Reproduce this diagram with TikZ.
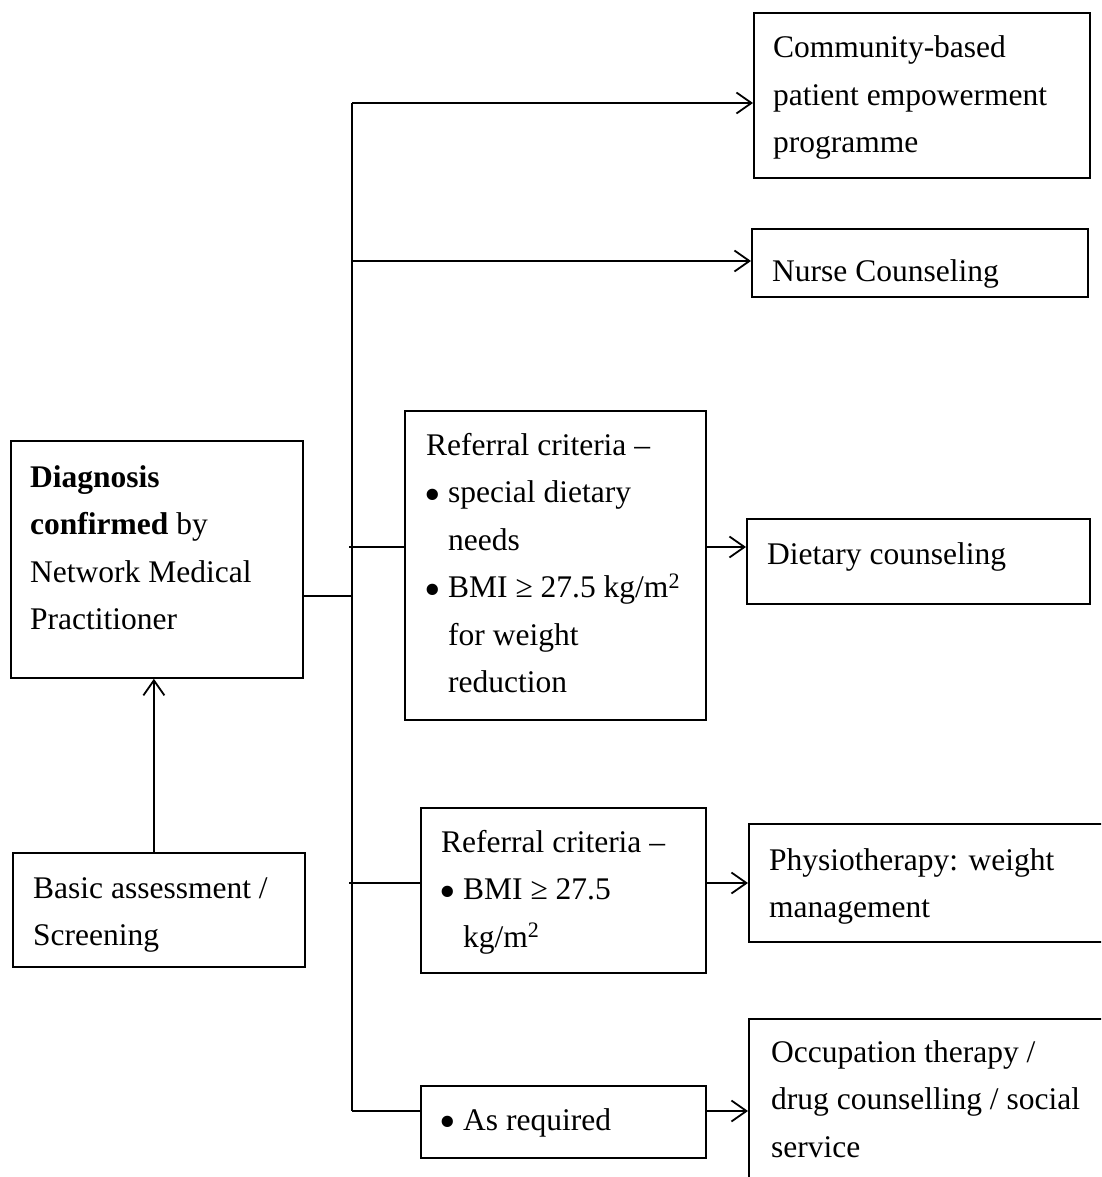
\documentclass[tikz,border=0pt]{standalone}
\usepackage{fontspec}
\usepackage{graphicx}
\setmainfont{Liberation Serif}
\usetikzlibrary{arrows.meta,calc}
\tikzset{
  box/.style={draw, line width=1.8pt, inner sep=0pt, anchor=north west, rectangle},
  txt/.style={inner sep=0pt, anchor=base west, align=left, font=\fontsize{31.5}{47.5}\selectfont},
  link/.style={line width=1.8pt},
  arr/.style={line width=1.8pt, -{Straight Barb[length=15pt,width=21pt,line width=1.8pt]}}
}
\newcommand{\bul}{\makebox[22pt][l]{\hspace*{-1.5pt}\raisebox{-7.5pt}{\scalebox{1.5}{\textbullet}}}}
\newcommand{\ind}{\hspace*{22pt}}
\begin{document}
\begin{tikzpicture}[x=1pt,y=-1pt]
\useasboundingbox (0,0) rectangle (1101,1177);
\clip (0,0) rectangle (1101,1177);
\fill[white] (0,0) rectangle (1101,1177);
% boxes
\node[box, minimum width=336pt, minimum height=165pt] (comm) at (753,12) {};
\node[box, minimum width=336pt, minimum height=68pt] (nurse) at (751,228) {};
\node[box, minimum width=292pt, minimum height=237pt] (diag) at (10,440) {};
\node[box, minimum width=292pt, minimum height=114pt] (basic) at (12,852) {};
\node[box, minimum width=301pt, minimum height=309pt] (ref1) at (404,410) {};
\node[box, minimum width=343pt, minimum height=85pt] (diet) at (746,518) {};
\node[box, minimum width=285pt, minimum height=165pt] (ref2) at (420,807) {};
\node[box, minimum width=370pt, minimum height=118pt] (physio) at (748,823) {};
\node[box, minimum width=285pt, minimum height=72pt] (asreq) at (420,1085) {};
\node[box, minimum width=400pt, minimum height=200pt] (occ) at (748,1018) {};
% texts (anchor = baseline of the last line)
\node[txt] (tcomm) at (773,153) {Community-based\\patient empowerment\\programme};
\node[txt] (tnurse) at (772,281) {Nurse Counseling};
\node[txt] (tdiag) at (30,629.5) {\textbf{Diagnosis}\\\textbf{confirmed} by\\Network Medical\\Practitioner};
\node[txt] (tbasic) at (33,945.5) {Basic assessment /\\Screening};
\node[txt] (tref1) at (426,692.5) {Referral criteria –\\\bul special dietary\\\ind needs\\\bul BMI ≥ 27.5 kg/m\textsuperscript{2}\\\ind for weight\\\ind reduction};
\node[txt] (tdiet) at (767,564) {Dietary counseling};
\node[txt] (tref2) at (441,947) {Referral criteria –\\\bul BMI ≥ 27.5\\\ind kg/m\textsuperscript{2}};
\node[txt] (tphysio) at (769,917.5) {Physiotherapy: weight\\management};
\node[txt] (tasreq) at (441,1130) {\bul As required};
\node[txt] (tocc) at (771,1157) {Occupation therapy /\\drug counselling / social\\service};
% junctions on the trunk
\coordinate (jtop) at (352,103);
\coordinate (jn) at (352,261);
\coordinate (j1) at (352,547);
\coordinate (j0) at (352,596);
\coordinate (j2) at (352,883);
\coordinate (j3) at (352,1111);
% connectors
\draw[link] (jtop) -- (j3);
\draw[arr] (jtop) -- (jtop -| comm.west);
\draw[arr] (jn) -- (jn -| nurse.west);
\draw[link] (diag.east |- j0) -- (j0);
\draw[link] ([xshift=-3pt]j1) -- (j1 -| ref1.west);
\draw[arr] (j1 -| ref1.east) -- (j1 -| diet.west);
\draw[link] ([xshift=-3pt]j2) -- (j2 -| ref2.west);
\draw[arr] (j2 -| ref2.east) -- (j2 -| physio.west);
\draw[link] (j3) -- (j3 -| asreq.west);
\draw[arr] (j3 -| asreq.east) -- (j3 -| occ.west);
\draw[arr] ([xshift=-5pt]basic.north) -- ([xshift=-3pt]diag.south);
\end{tikzpicture}
\end{document}
